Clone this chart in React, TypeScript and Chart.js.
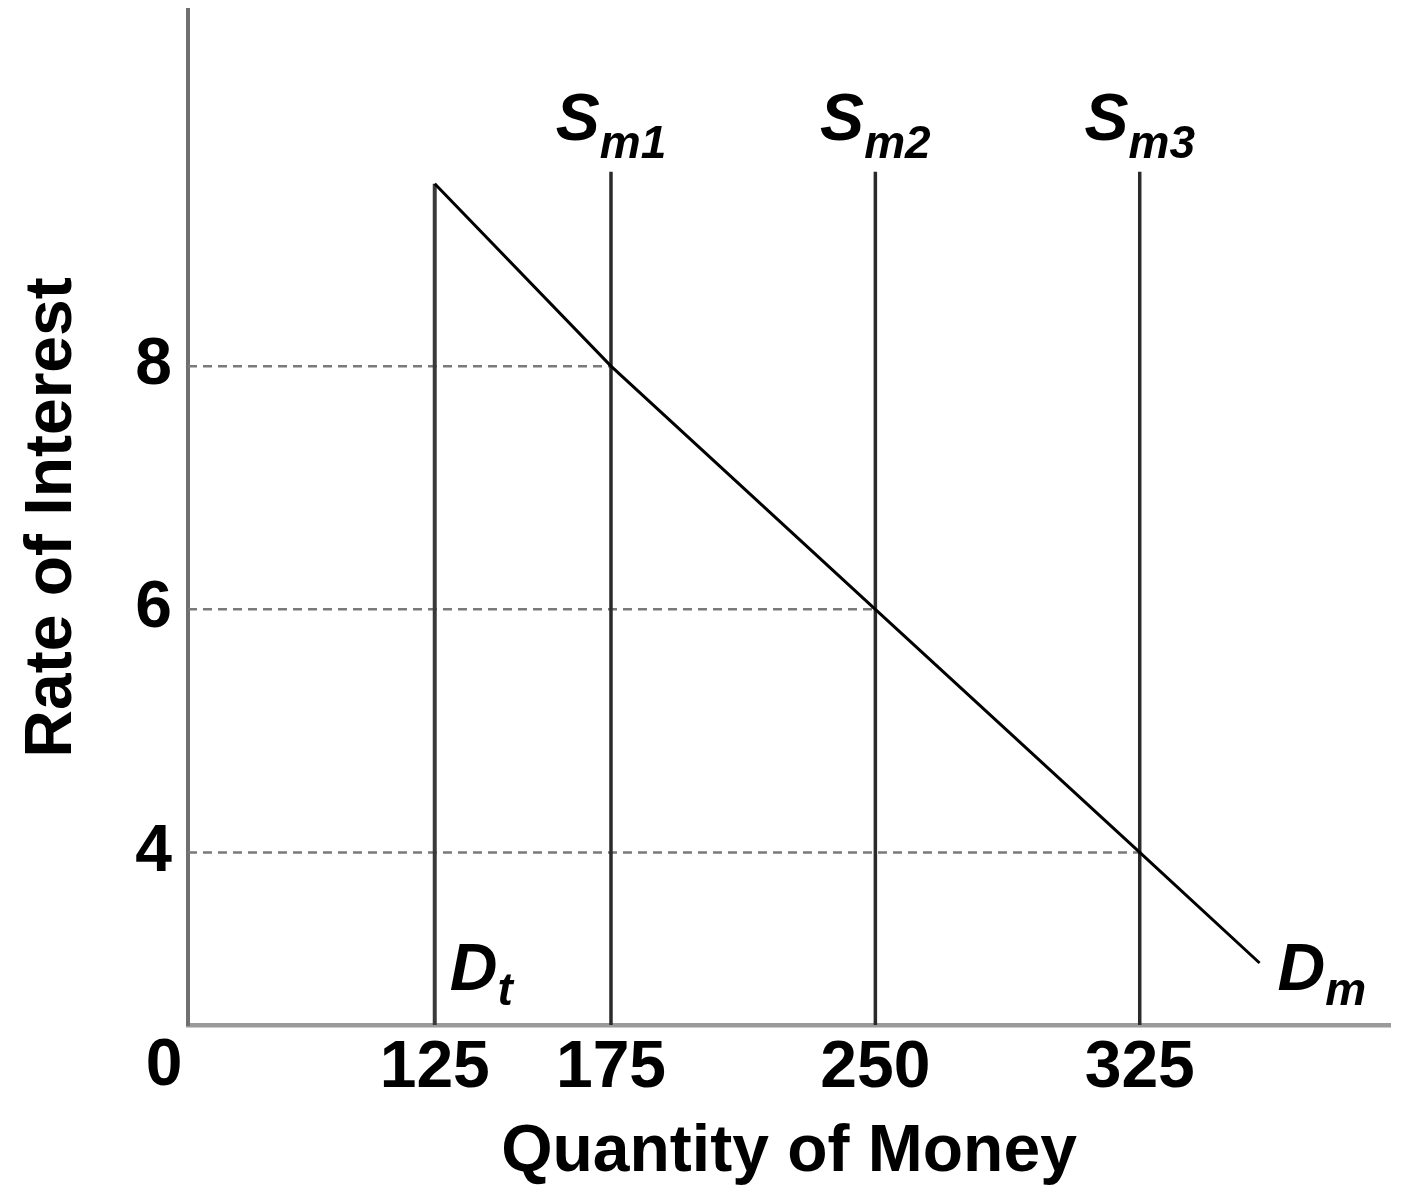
import React, { useEffect, useRef } from 'react';
import { Chart, registerables } from 'chart.js';

Chart.register(...registerables);

// ---- Data ----
const xTickValues = [125, 175, 250, 325];
const yTickValues = [4, 6, 8];
const originLabel = '0';
const transactionsQ = 125; // D_t
const supplyQ = [175, 250, 325]; // S_m1, S_m2, S_m3
const supplyLabels = ['m1', 'm2', 'm3'];
const supplyTop = 9.6;
const demandQ = [125, 175, 250, 325, 359]; // D_m
const demandRate = [9.5, 8, 6, 4, 3.09];
const equilibriumRate = [8, 6, 4];
const xRange = [55, 396];
const yRange = [2.58, 10.93];

const FONT = '"Liberation Sans", Arial, Helvetica, sans-serif';

const labelPlugin = {
  id: 'curveLabels',
  afterDatasetsDraw(chart: any) {
    const { ctx, chartArea } = chart;
    const x = chart.scales.x;
    const y = chart.scales.y;
    const big = `italic bold 66px ${FONT}`;
    const small = `italic bold 46px ${FONT}`;
    ctx.save();
    ctx.fillStyle = '#000';
    ctx.textBaseline = 'alphabetic';
    ctx.textAlign = 'left';

    const drawSub = (main: string, sub: string, left: number, base: number, drop: number) => {
      ctx.font = big;
      const w = ctx.measureText(main).width;
      ctx.fillText(main, left, base);
      ctx.font = small;
      ctx.fillText(sub, left + w, base + drop);
    };

    supplyQ.forEach((q, i) => {
      const px = x.getPixelForValue(q);
      ctx.font = big;
      const w1 = ctx.measureText('S').width;
      ctx.font = small;
      const w2 = ctx.measureText(supplyLabels[i]).width;
      const base = y.getPixelForValue(supplyTop) - 32;
      drawSub('S', supplyLabels[i], px - (w1 + w2) / 2, base, 18);
    });

    const dtX = x.getPixelForValue(transactionsQ);
    drawSub('D', 't', dtX + 15, chartArea.bottom - 35, 15);

    const dmX = x.getPixelForValue(demandQ[demandQ.length - 1]);
    drawSub('D', 'm', dmX + 18, chartArea.bottom - 35, 15);

    ctx.font = `bold 66px ${FONT}`;
    ctx.textAlign = 'center';
    ctx.fillText(originLabel, chartArea.left - 24, chartArea.bottom + 60);
    ctx.restore();
  },
};

export default function App() {
  const canvasRef = useRef<HTMLCanvasElement | null>(null);

  useEffect(() => {
    const canvas = canvasRef.current;
    if (!canvas) return;

    const demand = demandQ.map((q, i) => ({ x: q, y: demandRate[i] }));
    const supplySets = supplyQ.map((q) => ({
      data: [
        { x: q, y: yRange[0] },
        { x: q, y: supplyTop },
      ],
      borderColor: '#2a2a2a',
      borderWidth: 3.5,
      pointRadius: 0,
    }));
    const dashedSets = supplyQ.map((q, i) => ({
      data: [
        { x: xRange[0], y: equilibriumRate[i] },
        { x: q, y: equilibriumRate[i] },
      ],
      borderColor: '#7a7a7a',
      borderWidth: 2.5,
      borderDash: [9, 6],
      pointRadius: 0,
    }));

    const chart = new Chart(canvas, {
      type: 'line',
      data: {
        datasets: [
          {
            data: demand,
            borderColor: '#000',
            borderWidth: 3,
            pointRadius: 0,
          },
          ...supplySets,
          {
            data: [
              { x: transactionsQ, y: yRange[0] },
              { x: transactionsQ, y: demandRate[0] },
            ],
            borderColor: '#3a3a3a',
            borderWidth: 4,
            pointRadius: 0,
          },
          ...dashedSets,
        ] as any,
      },
      options: {
        responsive: false,
        animation: false,
        events: [],
        layout: { padding: { top: 10, right: 19, left: 0, bottom: 0 } },
        plugins: {
          legend: { display: false },
          tooltip: { enabled: false },
        },
        scales: {
          x: {
            type: 'linear',
            min: xRange[0],
            max: xRange[1],
            afterBuildTicks: (scale: any) => {
              scale.ticks = xTickValues.map((v) => ({ value: v }));
            },
            afterFit: (scale: any) => {
              scale.height = 175;
              scale.paddingLeft = 0;
              scale.paddingRight = 0;
            },
            grid: { display: false, drawTicks: false },
            border: { display: true, color: '#9a9a9a', width: 4.5 },
            ticks: {
              autoSkip: false,
              maxRotation: 0,
              padding: 4,
              color: '#000',
              font: { family: FONT, size: 66, weight: 'bold' },
              callback: (v: any) => String(v),
            },
            title: {
              display: true,
              text: 'Quantity of Money',
              color: '#000',
              font: { family: FONT, size: 66, weight: 'bold' },
              padding: { top: 0, bottom: 8 },
            },
          },
          y: {
            type: 'linear',
            min: yRange[0],
            max: yRange[1],
            afterBuildTicks: (scale: any) => {
              scale.ticks = yTickValues.map((v) => ({ value: v }));
            },
            afterFit: (scale: any) => {
              scale.width = 188;
              scale.paddingTop = 0;
              scale.paddingBottom = 0;
            },
            grid: { display: false, drawTicks: false },
            border: { display: true, color: '#707070', width: 4 },
            ticks: {
              autoSkip: false,
              padding: 16,
              color: '#000',
              font: { family: FONT, size: 66, weight: 'bold' },
              callback: (v: any) => String(v),
            },
            title: {
              display: true,
              text: 'Rate of Interest',
              color: '#000',
              font: { family: FONT, size: 66, weight: 'bold' },
              padding: { top: 13, bottom: 0 },
            },
          },
        },
      } as any,
      plugins: [labelPlugin],
    });

    return () => chart.destroy();
  }, []);

  return (
    <div style={{ position: 'absolute', left: 0, top: 0, width: 1409, height: 1200, background: '#fff' }}>
      <canvas ref={canvasRef} width={1409} height={1200} style={{ display: 'block' }} />
    </div>
  );
}
